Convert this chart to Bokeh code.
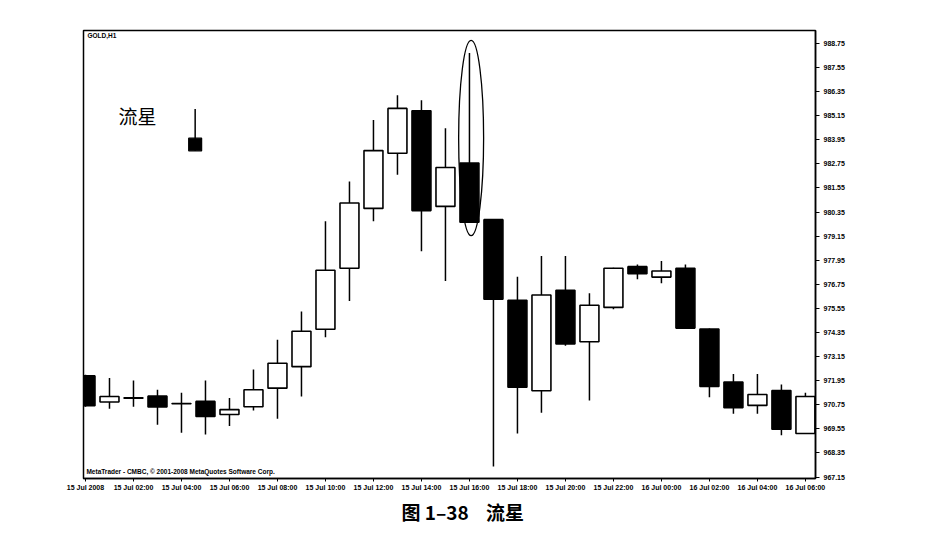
from bokeh.plotting import figure
from bokeh.models import FixedTicker, Title, Label, PrintfTickFormatter, ColumnDataSource, Range1d
from bokeh.embed import file_html
from bokeh.resources import INLINE

# ---- data (GOLD, H1) ----
bar_index = list(range(31))
opens  = [972.19, 970.89, 971.08, 971.18, 970.80, 970.92, 970.27, 970.65, 971.58, 972.65,
          974.51, 977.55, 980.53, 983.28, 985.39, 980.63, 982.79, 979.97, 975.96, 971.45,
          976.45, 973.89, 975.60, 977.63, 977.11, 977.55, 974.52, 971.88, 970.72, 971.46, 969.32]
highs  = [972.25, 972.09, 971.96, 971.50, 971.35, 971.96, 971.09, 972.51, 973.99, 975.40,
          979.89, 981.87, 984.93, 986.17, 985.92, 984.52, 988.27, 980.00, 977.13, 978.16,
          978.16, 976.31, 977.58, 977.74, 977.91, 977.74, 974.55, 972.29, 972.29, 971.76, 971.35]
lows   = [970.65, 970.55, 970.65, 969.76, 969.36, 969.27, 969.70, 970.47, 970.06, 971.16,
          974.11, 975.92, 979.89, 982.21, 978.40, 976.92, 979.80, 967.68, 969.32, 970.36,
          973.69, 970.97, 975.51, 977.00, 976.80, 974.52, 971.13, 970.31, 970.31, 969.23, 969.30]
closes = [970.70, 971.16, 971.10, 970.64, 970.81, 970.17, 970.51, 971.50, 972.82, 974.41,
          977.45, 980.80, 983.41, 985.51, 980.42, 982.57, 979.84, 976.01, 971.63, 976.22,
          973.78, 975.71, 977.55, 977.28, 977.41, 974.57, 971.66, 970.60, 971.26, 969.53, 971.16]

x_tick_positions = [0, 2, 4, 6, 8, 10, 12, 14, 16, 18, 20, 22, 24, 26, 28, 30]
x_tick_labels = ["15 Jul 2008", "15 Jul 02:00", "15 Jul 04:00", "15 Jul 06:00",
                 "15 Jul 08:00", "15 Jul 10:00", "15 Jul 12:00", "15 Jul 14:00",
                 "15 Jul 16:00", "15 Jul 18:00", "15 Jul 20:00", "15 Jul 22:00",
                 "16 Jul 00:00", "16 Jul 02:00", "16 Jul 04:00", "16 Jul 06:00"]
y_ticks = [967.15, 968.35, 969.55, 970.75, 971.95, 973.15, 974.35, 975.55, 976.75, 977.95,
           979.15, 980.35, 981.55, 982.75, 983.95, 985.15, 986.35, 987.55, 988.75]

# illustrative shooting-star candle next to the "流星" note
sample_x = [4.57]
sample_open = [984.03]
sample_high = [985.48]
sample_low = [983.40]
sample_close = [983.40]

star_index = 16

# ---- figure ----
p = figure(width=921, height=527, output_backend="svg", toolbar_location=None,
           x_range=Range1d(-0.083, 30.42), y_range=Range1d(967.08, 989.39),
           y_axis_location="right", min_border_left=83, min_border_right=106,
           min_border_top=30, min_border_bottom=47)
p.grid.visible = False
p.outline_line_color = "black"
p.outline_line_width = 1.5
p.background_fill_color = "white"
p.border_fill_color = "white"

tops = [max(o, c) for o, c in zip(opens, closes)]
bottoms = [min(o, c) for o, c in zip(opens, closes)]
fills = ["black" if c < o else "white" for o, c in zip(opens, closes)]
src = ColumnDataSource(dict(x=bar_index, high=highs, low=lows, top=tops, bottom=bottoms, fill=fills))

p.segment(x0="x", y0="high", x1="x", y1="low", source=src, line_color="black", line_width=1.5)
p.vbar(x="x", top="top", bottom="bottom", width=0.79, source=src,
       fill_color="fill", line_color="black", line_width=1.6)

# sample candle
p.segment(x0=sample_x, y0=sample_high, x1=sample_x, y1=sample_low, line_color="black", line_width=1.5)
p.vbar(x=sample_x, top=sample_open, bottom=sample_close, width=0.54,
       fill_color="black", line_color="black", line_width=1.2)

# ellipse around the shooting star
h, l = highs[star_index], lows[star_index]
p.ellipse(x=[star_index + 0.07], y=[(h + l) / 2], width=[1.04], height=[(h - l) * 1.15],
          fill_color=None, line_color="black", line_width=1.3)

# ---- axes ----
xa = p.xaxis[0]
xa.ticker = FixedTicker(ticks=x_tick_positions)
xa.major_label_overrides = {t: lab for t, lab in zip(x_tick_positions, x_tick_labels)}
xa.major_label_text_align = "left"
xa.major_label_text_font = "Liberation Sans"
xa.major_label_text_font_style = "bold"
xa.major_label_text_font_size = "7px"
xa.major_label_text_color = "black"
xa.major_label_standoff = 2
xa.major_tick_out = 3
xa.major_tick_in = 0
xa.minor_tick_out = 0
xa.minor_tick_in = 0
xa.axis_line_color = "black"
xa.axis_line_width = 1.5

ya = p.yaxis[0]
ya.ticker = FixedTicker(ticks=y_ticks)
ya.formatter = PrintfTickFormatter(format="%.2f")
ya.major_label_text_font = "Liberation Sans"
ya.major_label_text_font_style = "bold"
ya.major_label_text_font_size = "7px"
ya.major_label_text_color = "black"
ya.major_label_standoff = 4
ya.major_tick_out = 4
ya.major_tick_in = 0
ya.minor_tick_out = 0
ya.minor_tick_in = 0
ya.axis_line_color = "black"
ya.axis_line_width = 1.5

# ---- texts ----
p.add_layout(Label(x=0.08, y=989.34, text="GOLD,H1", text_font="Liberation Sans",
                   text_font_style="bold", text_font_size="6.5px", text_baseline="top",
                   text_color="black"))
p.add_layout(Label(x=0.04, y=967.43, text="MetaTrader - CMBC, © 2001-2008 MetaQuotes Software Corp.",
                   text_font="Liberation Sans", text_font_style="bold", text_font_size="6.5px",
                   text_baseline="middle", text_color="black"))
p.add_layout(Label(x=1.375, y=985.18, text="流星", text_font="Noto Sans CJK SC",
                   text_font_size="19px", text_baseline="middle", text_color="black"))

cap = Title(text="图 1–38\u00a0\u00a0\u00a0\u00a0流星", align="left", offset=318, standoff=5,
            text_font="Noto Sans CJK SC", text_font_style="bold", text_font_size="19px",
            text_color="black")
p.add_layout(cap, "below")

open("out.html", "w").write(file_html(p, INLINE))
